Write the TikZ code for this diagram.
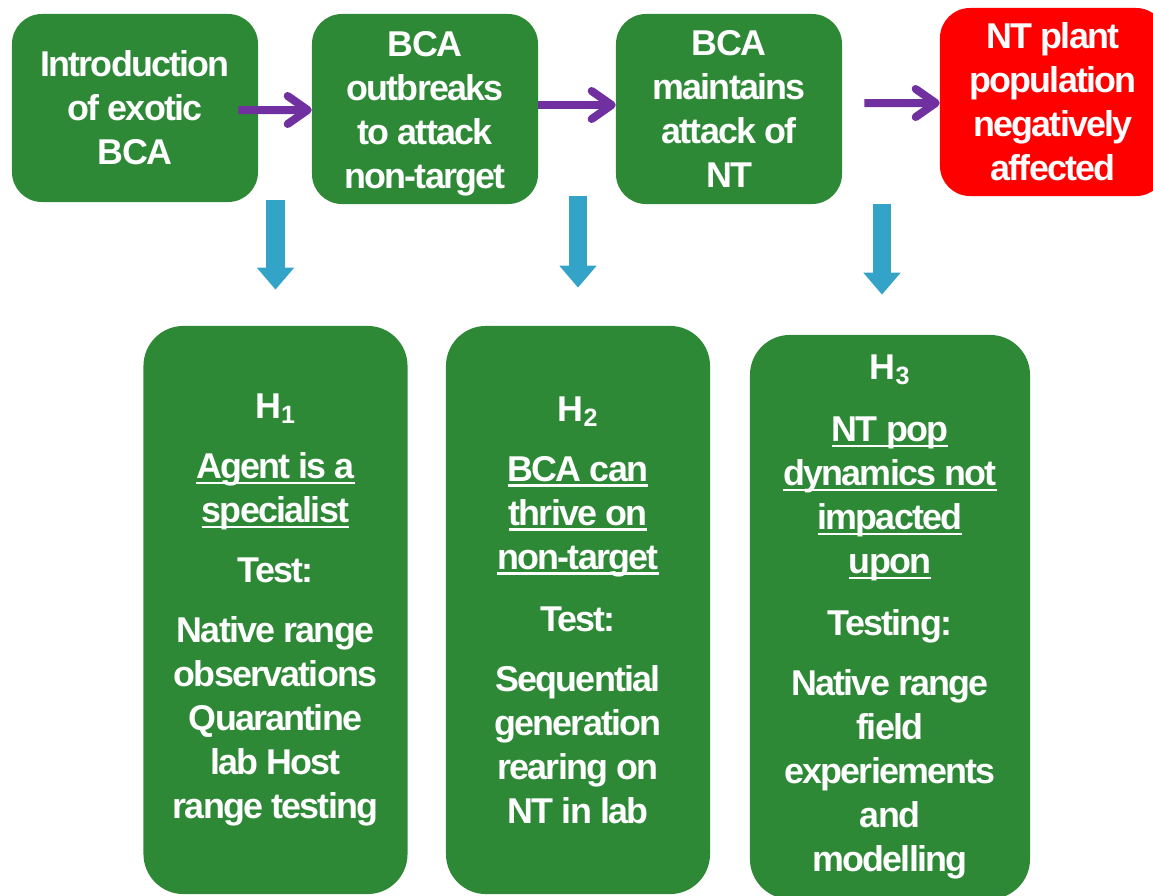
\documentclass[tikz,border=0pt]{standalone}
\usepackage{fontspec}
\setmainfont{Liberation Sans}[LetterSpace=-5]
\usetikzlibrary{arrows.meta}

\definecolor{boxgreen}{RGB}{46,137,55}
\definecolor{alarmred}{RGB}{255,0,0}
\definecolor{stepviolet}{RGB}{112,48,160}
\definecolor{dropblue}{RGB}{52,163,200}

% underline with a thicker rule
\newcommand\uln[1]{\setbox0=\hbox{#1}\rlap{\rule[-4pt]{\wd0}{1.8pt}}\box0}

\begin{document}
\begin{tikzpicture}[x=0.025cm, y=-0.025cm,
  every node/.style = {align=center, text=white,
    font=\bfseries\fontsize{25.5}{31.3}\selectfont},
  topbox/.style = {fill=boxgreen, rounded corners=0.75cm,
    minimum width=5.65cm, minimum height=4.75cm},
  hypbox/.style = {fill=boxgreen, rounded corners=1cm,
    minimum width=6.6cm, minimum height=14.2cm},
  flow/.style = {draw=stepviolet, line width=0.2cm,
    -{Straight Barb[round, length=0.5cm, width=0.7cm]}},
  drop/.style = {draw=dropblue, line width=0.45cm,
    -{Triangle[length=0.55cm, width=0.9cm]}}]
  \useasboundingbox (0,0) rectangle (1153,896);
  \clip (0,0) rectangle (1153,896);

  % top row
  \node[topbox, minimum width=6.15cm, minimum height=4.7cm] (intro) at (135,108)
    {Introduction\\of exotic\\BCA};
  \node[topbox] (outbreak) at (425,109)
    {\rule{0pt}{0.85cm}BCA\\outbreaks\\to attack\\non-target};
  \node[topbox] (maintain) at (729,109)
    {BCA\\maintains\\attack of\\NT};
  \node[topbox, fill=alarmred, minimum height=4.7cm] (affected) at (1053,102)
    {NT plant\\population\\negatively\\affected};

  % hypotheses
  \node[hypbox] (h1) at (275.5,610)
    {H\textsubscript{1}\\[0.4cm]
     \uln{Agent is a}\\\uln{specialist}\\[0.4cm]
     Test:\\[0.4cm]
     Native range\\observations\\Quarantine\\lab Host\\range testing};
  \node[hypbox] (h2) at (578,610)
    {H\textsubscript{2}\\[0.4cm]
     \uln{BCA can}\\\uln{thrive on}\\\uln{non-target}\\[0.45cm]
     Test:\\[0.4cm]
     Sequential\\generation\\rearing on\\NT in lab};
  \node[hypbox, minimum width=7cm, minimum height=14.1cm] (h3) at (890,617)
    {H\textsubscript{3}\\[0.45cm]
     \uln{NT pop}\\\uln{dynamics not}\\\uln{impacted}\\\uln{upon}\\[0.45cm]
     Testing:\\[0.4cm]
     Native range\\field\\experiements\\and\\modelling};

  % arrows
  \draw[flow] ([xshift=-0.5cm, yshift=-0.05cm]intro.east) -- ([yshift=-0.025cm]outbreak.west);
  \draw[flow] ([yshift=0.1cm]outbreak.east) -- ([yshift=0.1cm]maintain.west);
  \draw[flow] ([xshift=0.55cm, yshift=0.15cm]maintain.east) -- ([yshift=-0.025cm]affected.west);

  \draw[drop] ([yshift=3.15cm]h1.north) -- ([yshift=0.9cm]h1.north);
  \draw[drop] ([yshift=3.25cm]h2.north) -- ([yshift=0.95cm]h2.north);
  \draw[drop] ([xshift=-0.2cm, yshift=3.275cm]h3.north) -- ([xshift=-0.2cm, yshift=1cm]h3.north);
\end{tikzpicture}
\end{document}
